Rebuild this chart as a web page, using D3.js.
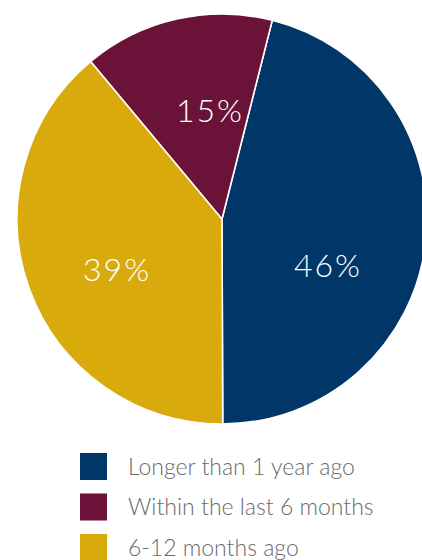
<!DOCTYPE html>
<html><head><meta charset="utf-8">
<script src="https://cdn.jsdelivr.net/npm/d3@7"></script>
<style>html,body{margin:0;padding:0;background:#fff;}svg{display:block;}</style>
</head><body>
<svg id="chart" width="422" height="560"></svg>
<script>
const categories = ["Longer than 1 year ago", "6-12 months ago", "Within the last 6 months"];
const values = [46, 39, 15];
const colors = ["#003768", "#d9aa0c", "#6b1238"];
const legendOrder = ["Longer than 1 year ago", "Within the last 6 months", "6-12 months ago"];
const labelNudge = [[-6, 33], [1, 12], [13, 1]];

const svg = d3.select("#chart");
const cx = 222, cy = 219, R = 205;
const startA = 14.2 * Math.PI / 180;
const pie = d3.pie().sort(null).value(d => d.v).startAngle(startA).endAngle(startA + 2 * Math.PI);
const data = categories.map((c, i) => ({c, v: values[i], col: colors[i], n: labelNudge[i]}));
const arcs = pie(data);
const arc = d3.arc().innerRadius(0).outerRadius(R);
const labelArc = d3.arc().innerRadius(R * 0.55).outerRadius(R * 0.55);
const g = svg.append("g").attr("transform", `translate(${cx},${cy})`);
g.selectAll("path").data(arcs).join("path")
  .attr("d", arc).attr("fill", d => d.data.col)
  .attr("stroke", "#fff").attr("stroke-width", 1.6).attr("stroke-linejoin", "round");
g.selectAll("text").data(arcs).join("text")
  .attr("transform", d => { const p = labelArc.centroid(d); return `translate(${p[0] + d.data.n[0]},${p[1] + d.data.n[1]})`; })
  .attr("text-anchor", "middle").attr("dy", "0.36em")
  .attr("fill", "#fff").attr("font-family", "Lato, 'Open Sans', sans-serif").attr("font-weight", 300)
  .attr("font-size", 32).attr("letter-spacing", 2).text(d => d.data.v + "%");

const color = d3.scaleOrdinal().domain(categories).range(colors);
const ly = d3.scalePoint().domain(legendOrder).range([466.5, 547.5]);
const leg = svg.append("g");
const items = leg.selectAll("g").data(legendOrder).join("g")
  .attr("transform", d => `translate(80,${ly(d)})`);
items.append("rect").attr("x", 0).attr("y", -13.5).attr("width", 27).attr("height", 27).attr("fill", d => color(d));
items.append("text").attr("x", 48).attr("dy", "0.35em")
  .attr("fill", "#6a6a6a").attr("font-family", "Lato, 'Open Sans', sans-serif").attr("font-weight", 300)
  .attr("font-size", 23).text(d => d);
</script>
</body></html>
